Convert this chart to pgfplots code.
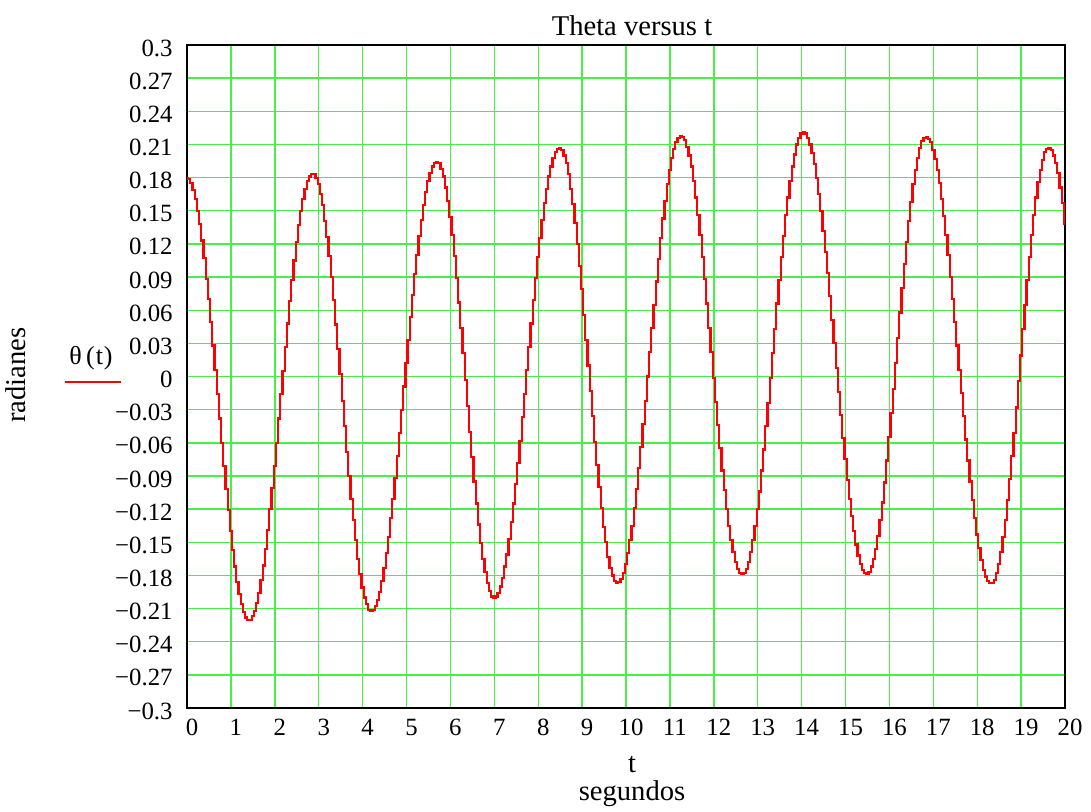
\documentclass[border=0pt]{standalone}
\usepackage{pgfplots}
\pgfplotsset{compat=1.18}
\usepackage{pgfplotstable}
\usepackage{fontspec}
\setmainfont{Liberation Serif}

\definecolor{gridgreen}{RGB}{70,240,70}
\definecolor{curvered}{RGB}{255,0,0}

% Pendulum angle theta(t) in radians, sampled every 0.05 s
\pgfplotstableread{
t theta
0.00 0.180
0.05 0.179
0.10 0.175
0.15 0.169
0.20 0.161
0.25 0.150
0.30 0.138
0.35 0.123
0.40 0.107
0.45 0.088
0.50 0.070
0.55 0.049
0.60 0.028
0.65 0.006
0.70 -0.016
0.75 -0.038
0.80 -0.060
0.85 -0.081
0.90 -0.102
0.95 -0.121
1.00 -0.140
1.05 -0.157
1.10 -0.172
1.15 -0.186
1.20 -0.197
1.25 -0.206
1.30 -0.213
1.35 -0.218
1.40 -0.220
1.45 -0.220
1.50 -0.217
1.55 -0.212
1.60 -0.205
1.65 -0.196
1.70 -0.184
1.75 -0.171
1.80 -0.156
1.85 -0.139
1.90 -0.120
1.95 -0.101
2.00 -0.081
2.05 -0.060
2.10 -0.038
2.15 -0.016
2.20 0.005
2.25 0.027
2.30 0.048
2.35 0.068
2.40 0.087
2.45 0.105
2.50 0.122
2.55 0.137
2.60 0.150
2.65 0.161
2.70 0.170
2.75 0.177
2.80 0.181
2.85 0.183
2.90 0.183
2.95 0.180
3.00 0.174
3.05 0.165
3.10 0.155
3.15 0.141
3.20 0.126
3.25 0.109
3.30 0.090
3.35 0.069
3.40 0.047
3.45 0.025
3.50 0.002
3.55 -0.022
3.60 -0.045
3.65 -0.068
3.70 -0.090
3.75 -0.111
3.80 -0.130
3.85 -0.148
3.90 -0.165
3.95 -0.179
4.00 -0.191
4.05 -0.200
4.10 -0.206
4.15 -0.211
4.20 -0.212
4.25 -0.211
4.30 -0.208
4.35 -0.202
4.40 -0.195
4.45 -0.185
4.50 -0.173
4.55 -0.160
4.60 -0.145
4.65 -0.128
4.70 -0.111
4.75 -0.092
4.80 -0.072
4.85 -0.051
4.90 -0.030
4.95 -0.009
5.00 0.012
5.05 0.033
5.10 0.054
5.15 0.074
5.20 0.093
5.25 0.110
5.30 0.127
5.35 0.142
5.40 0.155
5.45 0.167
5.50 0.177
5.55 0.184
5.60 0.190
5.65 0.193
5.70 0.194
5.75 0.193
5.80 0.188
5.85 0.181
5.90 0.171
5.95 0.159
6.00 0.144
6.05 0.128
6.10 0.109
6.15 0.089
6.20 0.067
6.25 0.044
6.30 0.021
6.35 -0.003
6.40 -0.027
6.45 -0.050
6.50 -0.073
6.55 -0.095
6.60 -0.115
6.65 -0.134
6.70 -0.151
6.75 -0.165
6.80 -0.177
6.85 -0.187
6.90 -0.194
6.95 -0.199
7.00 -0.200
7.05 -0.199
7.10 -0.196
7.15 -0.190
7.20 -0.182
7.25 -0.172
7.30 -0.161
7.35 -0.147
7.40 -0.132
7.45 -0.115
7.50 -0.097
7.55 -0.078
7.60 -0.058
7.65 -0.037
7.70 -0.016
7.75 0.006
7.80 0.027
7.85 0.048
7.90 0.069
7.95 0.089
8.00 0.108
8.05 0.125
8.10 0.142
8.15 0.157
8.20 0.170
8.25 0.181
8.30 0.190
8.35 0.198
8.40 0.203
8.45 0.206
8.50 0.207
8.55 0.205
8.60 0.200
8.65 0.193
8.70 0.183
8.75 0.170
8.80 0.156
8.85 0.139
8.90 0.120
8.95 0.100
9.00 0.079
9.05 0.056
9.10 0.033
9.15 0.010
9.20 -0.013
9.25 -0.036
9.30 -0.059
9.35 -0.080
9.40 -0.100
9.45 -0.119
9.50 -0.136
9.55 -0.150
9.60 -0.163
9.65 -0.173
9.70 -0.180
9.75 -0.185
9.80 -0.187
9.85 -0.186
9.90 -0.183
9.95 -0.178
10.00 -0.170
10.05 -0.160
10.10 -0.148
10.15 -0.135
10.20 -0.119
10.25 -0.102
10.30 -0.083
10.35 -0.064
10.40 -0.043
10.45 -0.022
10.50 0.000
10.55 0.022
10.60 0.044
10.65 0.065
10.70 0.086
10.75 0.106
10.80 0.125
10.85 0.143
10.90 0.159
10.95 0.174
11.00 0.187
11.05 0.198
11.10 0.206
11.15 0.212
11.20 0.216
11.25 0.218
11.30 0.217
11.35 0.214
11.40 0.208
11.45 0.200
11.50 0.190
11.55 0.177
11.60 0.162
11.65 0.146
11.70 0.128
11.75 0.108
11.80 0.088
11.85 0.066
11.90 0.044
11.95 0.022
12.00 -0.001
12.05 -0.023
12.10 -0.044
12.15 -0.065
12.20 -0.085
12.25 -0.103
12.30 -0.120
12.35 -0.135
12.40 -0.148
12.45 -0.159
12.50 -0.168
12.55 -0.174
12.60 -0.178
12.65 -0.179
12.70 -0.178
12.75 -0.174
12.80 -0.168
12.85 -0.159
12.90 -0.148
12.95 -0.135
13.00 -0.120
13.05 -0.104
13.10 -0.085
13.15 -0.066
13.20 -0.045
13.25 -0.024
13.30 -0.001
13.35 0.021
13.40 0.043
13.45 0.066
13.50 0.087
13.55 0.108
13.60 0.127
13.65 0.146
13.70 0.162
13.75 0.177
13.80 0.190
13.85 0.201
13.90 0.210
13.95 0.216
14.00 0.220
14.05 0.221
14.10 0.220
14.15 0.216
14.20 0.210
14.25 0.202
14.30 0.192
14.35 0.180
14.40 0.165
14.45 0.150
14.50 0.132
14.55 0.113
14.60 0.094
14.65 0.073
14.70 0.051
14.75 0.030
14.80 0.008
14.85 -0.014
14.90 -0.035
14.95 -0.056
15.00 -0.075
15.05 -0.094
15.10 -0.111
15.15 -0.126
15.20 -0.140
15.25 -0.152
15.30 -0.162
15.35 -0.170
15.40 -0.175
15.45 -0.178
15.50 -0.179
15.55 -0.177
15.60 -0.172
15.65 -0.165
15.70 -0.156
15.75 -0.144
15.80 -0.130
15.85 -0.114
15.90 -0.096
15.95 -0.076
16.00 -0.055
16.05 -0.033
16.10 -0.011
16.15 0.012
16.20 0.035
16.25 0.058
16.30 0.080
16.35 0.102
16.40 0.122
16.45 0.141
16.50 0.158
16.55 0.174
16.60 0.187
16.65 0.198
16.70 0.207
16.75 0.213
16.80 0.216
16.85 0.217
16.90 0.215
16.95 0.212
17.00 0.205
17.05 0.197
17.10 0.187
17.15 0.175
17.20 0.161
17.25 0.145
17.30 0.128
17.35 0.110
17.40 0.090
17.45 0.070
17.50 0.049
17.55 0.028
17.60 0.006
17.65 -0.015
17.70 -0.036
17.75 -0.057
17.80 -0.076
17.85 -0.095
17.90 -0.112
17.95 -0.128
18.00 -0.143
18.05 -0.155
18.10 -0.166
18.15 -0.175
18.20 -0.181
18.25 -0.185
18.30 -0.187
18.35 -0.187
18.40 -0.184
18.45 -0.178
18.50 -0.170
18.55 -0.159
18.60 -0.145
18.65 -0.130
18.70 -0.112
18.75 -0.093
18.80 -0.072
18.85 -0.051
18.90 -0.028
18.95 -0.004
19.00 0.019
19.05 0.043
19.10 0.065
19.15 0.087
19.20 0.108
19.25 0.128
19.30 0.146
19.35 0.162
19.40 0.176
19.45 0.187
19.50 0.196
19.55 0.203
19.60 0.206
19.65 0.207
19.70 0.205
19.75 0.200
19.80 0.193
19.85 0.184
19.90 0.171
19.95 0.157
20.00 0.138
}\thetadata

\begin{document}
\fontsize{12.4}{14.5}\selectfont
\begin{tikzpicture}
\begin{axis}[
  at={(0,0)}, anchor=south west,
  scale only axis,
  width=439pt, height=331.5pt,
  xmin=0, xmax=20, ymin=-0.3, ymax=0.3,
  xtick={0,1,...,20},
  ytick={-0.3,-0.27,-0.24,-0.21,-0.18,-0.15,-0.12,-0.09,-0.06,-0.03,0,0.03,0.06,0.09,0.12,0.15,0.18,0.21,0.24,0.27,0.3},
  yticklabels={−0.3,−0.27,−0.24,−0.21,−0.18,−0.15,−0.12,−0.09,−0.06,−0.03,0,0.03,0.06,0.09,0.12,0.15,0.18,0.21,0.24,0.27,0.3},
  /pgf/number format/assume math mode=true,
  tick label style={font=\fontsize{12.4}{14.5}\selectfont},
  xticklabel style={anchor=north, inner sep=0pt, yshift=-5.5pt, xshift=2.5pt},
  yticklabel style={anchor=east, inner sep=0pt, xshift=-7pt, yshift=-1.5pt},
  major tick length=0pt,
  grid=major,
  major grid style={gridgreen, line width=0.7pt},
  axis line style={black, line width=1pt},
]
\addplot[curvered, line width=1.1pt, const plot mark mid] table[x=t, y=theta] {\thetadata};
\end{axis}

\begin{scope}[every node/.style={font=\fontsize{14.3}{16.5}\selectfont, inner sep=0pt}]
\node at (222.5pt,341pt) {Theta versus t};
\node at (222.5pt,-28.5pt) {t};
\node at (222.5pt,-43pt) {segundos};
\node[rotate=90] at (-85.5pt,166.5pt) {radianes};
\end{scope}
\node[font=\fontsize{13}{15}\selectfont, inner sep=0pt] at (-48pt,175pt) {θ\,(\kern0.5pt t\kern0.5pt)};
\node[inner sep=0pt] at (-47pt,163pt) {\textcolor{curvered}{\rule{28pt}{0.7pt}}};

\pgfresetboundingbox
\useasboundingbox (-93.5pt,-51.5pt) rectangle (452pt,354pt);
\end{tikzpicture}
\end{document}
